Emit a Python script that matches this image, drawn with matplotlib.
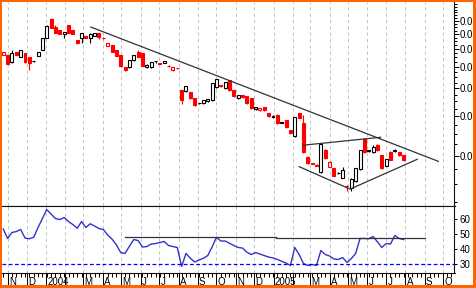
import datetime as dt
import matplotlib
matplotlib.use("Agg")
import matplotlib.pyplot as plt
import matplotlib.dates as mdates
from matplotlib.patches import Rectangle
from matplotlib.transforms import blended_transform_factory
import numpy as np

plt.rcParams['font.family'] = ['Liberation Sans', 'DejaVu Sans']

# weekly bars, first bar = week ending Fri 24 Oct 2003
first_week = dt.date(2003, 10, 24)
prev_close = 0.0590  # close of the week before the first bar

opens = [0.0564, 0.0564, 0.0524, 0.0581, 0.0552, 0.0575, 0.0552, 0.0528, 0.0558, 0.0593,
         0.0671, 0.0817, 0.0752, 0.0729, 0.0700, 0.0768, 0.0729, 0.0658, 0.0671, 0.0685,
         0.0671, 0.0685, 0.0707, 0.0674, 0.0618, 0.0625, 0.0593, 0.0564, 0.0498, 0.0498,
         0.0535, 0.0581, 0.0575, 0.0498, 0.0498, 0.0529, 0.0519, 0.0519, 0.0505, 0.0483,
         0.0494, 0.0393, 0.0389, 0.0385, 0.0362, 0.0343, 0.0344, 0.0351, 0.0354, 0.0405,
         0.0414, 0.0401, 0.0435, 0.0393, 0.0362, 0.0373, 0.0369, 0.0362, 0.0323, 0.0320,
         0.0330, 0.0310, 0.0297, 0.0304, 0.0281, 0.0288, 0.0260, 0.0244, 0.0310, 0.0280,
         0.0197, 0.0185, 0.0182, 0.0169, 0.0212, 0.0179, 0.0176, 0.0167, 0.0160, 0.0147,
         0.0143, 0.0154, 0.0174, 0.0239, 0.0211, 0.0207, 0.0223, 0.0201, 0.0181, 0.0209,
         0.0211, 0.0207, 0.0201]
highs = [0.0583, 0.0566, 0.0593, 0.0583, 0.0596, 0.0577, 0.0555, 0.0532, 0.0583, 0.0673,
         0.0765, 0.0822, 0.0768, 0.0731, 0.0716, 0.0770, 0.0731, 0.0660, 0.0709, 0.0687,
         0.0705, 0.0709, 0.0709, 0.0676, 0.0640, 0.0627, 0.0595, 0.0566, 0.0500, 0.0537,
         0.0566, 0.0593, 0.0577, 0.0513, 0.0526, 0.0531, 0.0521, 0.0532, 0.0507, 0.0500,
         0.0496, 0.0395, 0.0411, 0.0387, 0.0364, 0.0346, 0.0356, 0.0360, 0.0424, 0.0442,
         0.0416, 0.0429, 0.0437, 0.0395, 0.0375, 0.0375, 0.0371, 0.0364, 0.0332, 0.0328,
         0.0332, 0.0312, 0.0304, 0.0306, 0.0284, 0.0290, 0.0262, 0.0299, 0.0312, 0.0304,
         0.0199, 0.0186, 0.0183, 0.0229, 0.0214, 0.0189, 0.0177, 0.0169, 0.0178, 0.0148,
         0.0159, 0.0177, 0.0213, 0.0241, 0.0213, 0.0223, 0.0225, 0.0202, 0.0194, 0.0210,
         0.0214, 0.0208, 0.0202]
lows = [0.0562, 0.0512, 0.0519, 0.0562, 0.0550, 0.0522, 0.0483, 0.0526, 0.0556, 0.0593,
        0.0669, 0.0742, 0.0705, 0.0701, 0.0671, 0.0708, 0.0698, 0.0631, 0.0638, 0.0669,
        0.0638, 0.0683, 0.0664, 0.0668, 0.0616, 0.0579, 0.0556, 0.0501, 0.0478, 0.0496,
        0.0533, 0.0550, 0.0504, 0.0496, 0.0496, 0.0519, 0.0512, 0.0517, 0.0501, 0.0481,
        0.0490, 0.0340, 0.0387, 0.0360, 0.0334, 0.0341, 0.0342, 0.0349, 0.0352, 0.0403,
        0.0407, 0.0399, 0.0391, 0.0367, 0.0360, 0.0363, 0.0342, 0.0324, 0.0321, 0.0318,
        0.0318, 0.0298, 0.0295, 0.0278, 0.0279, 0.0266, 0.0250, 0.0242, 0.0294, 0.0205,
        0.0183, 0.0183, 0.0180, 0.0167, 0.0193, 0.0178, 0.0162, 0.0166, 0.0159, 0.0140,
        0.0140, 0.0153, 0.0173, 0.0205, 0.0209, 0.0205, 0.0211, 0.0175, 0.0180, 0.0191,
        0.0209, 0.0200, 0.0190]
closes = [0.0581, 0.0514, 0.0575, 0.0564, 0.0593, 0.0524, 0.0521, 0.0530, 0.0581, 0.0671,
          0.0760, 0.0744, 0.0707, 0.0703, 0.0714, 0.0710, 0.0700, 0.0638, 0.0707, 0.0671,
          0.0703, 0.0707, 0.0678, 0.0670, 0.0638, 0.0581, 0.0558, 0.0503, 0.0483, 0.0535,
          0.0564, 0.0552, 0.0506, 0.0511, 0.0524, 0.0530, 0.0514, 0.0530, 0.0503, 0.0498,
          0.0492, 0.0354, 0.0409, 0.0362, 0.0336, 0.0344, 0.0354, 0.0358, 0.0422, 0.0440,
          0.0409, 0.0427, 0.0393, 0.0369, 0.0373, 0.0365, 0.0344, 0.0326, 0.0330, 0.0326,
          0.0320, 0.0300, 0.0302, 0.0280, 0.0282, 0.0268, 0.0252, 0.0297, 0.0296, 0.0207,
          0.0185, 0.0184, 0.0181, 0.0227, 0.0195, 0.0187, 0.0163, 0.0168, 0.0172, 0.0146,
          0.0158, 0.0176, 0.0212, 0.0207, 0.0212, 0.0218, 0.0212, 0.0176, 0.0193, 0.0192,
          0.0212, 0.0201, 0.0191]

rsi = [53, 46.7, 50.7, 51.3, 52.7, 47, 46.5, 47.5, 54, 60,
       66, 63, 60, 59.3, 60.7, 58, 56, 53.5, 58, 54,
       56.5, 55, 53.3, 52.7, 49, 46.3, 42.5, 37.3, 36.7, 41.5,
       46, 45.3, 41, 41.3, 43, 43.3, 44, 44.7, 42, 41.3,
       40.7, 28, 36.7, 33.5, 31, 32.3, 33.5, 35.3, 41, 47.5,
       45, 45, 43.5, 42, 40.7, 40.3, 37.5, 36, 37.3, 36.3,
       35.3, 34.3, 33.7, 32.7, 31.5, 30.3, 28.7, 40.7, 36, 30,
       28.7, 29.3, 28.7, 38.7, 36, 35, 33, 32.7, 34, 30.7,
       33.3, 36.7, 46.7, 46.7, 46.5, 48, 44.5, 40.7, 43.3, 43,
       48.7, 46.7, 46]

# drawn trend lines (date, price)
down_dates, down_prices = ["2004-03-13", "2005-09-23"], [0.0752, 0.0189]
tri_top_dates, tri_top_prices = ["2005-02-17", "2005-06-22"], [0.0223, 0.0242]
tri_low_dates, tri_low_prices = ["2005-02-11", "2005-05-04", "2005-08-20"], [0.0179, 0.0142, 0.0193]
rsi_res1_dates, rsi_res1 = ["2004-05-07", "2005-01-05"], [47.8, 47.8]
rsi_res2_dates, rsi_res2 = ["2005-01-05", "2005-09-02"], [47.1, 47.1]

price_ticks = [0.02, 0.03, 0.04, 0.05, 0.06, 0.07, 0.08]
rsi_ticks = [30, 40, 50, 60]


def to_num(dates):
    return mdates.date2num([dt.date.fromisoformat(d) for d in dates])


W, H = 477, 288
fig = plt.figure(figsize=(W / 100, H / 100), dpi=100)
# edges put on pixel centres so 1px spines stay crisp
ax = fig.add_axes([2 / W, 1 - 205.5 / H, 452.5 / W, 203.5 / H])
ax2 = fig.add_axes([2 / W, 1 - 272.5 / H, 452.5 / W, 67 / H], sharex=ax)

n = len(closes)
x = mdates.date2num([first_week + dt.timedelta(weeks=i) for i in range(n)])
o, hi, lo, c = map(np.array, (opens, highs, lows, closes))
pc = np.r_[prev_close, c[:-1]]
col = np.where(c < pc, '#FF0000', '#000000')
up = c > o
face = np.where(up, 'white', col)

# candles
ax.vlines(x, lo, hi, colors=col, lw=0.8, zorder=2)
ax.bar(x, np.abs(c - o), bottom=np.minimum(o, c), width=4.8,
       color=face, edgecolor=col, linewidth=0.8, zorder=3)

lc = '#333333'
ax.plot(to_num(down_dates), down_prices, color=lc, lw=0.9, zorder=4)
ax.plot(to_num(tri_top_dates), tri_top_prices, color=lc, lw=0.9, zorder=4)
ax.plot(to_num(tri_low_dates), tri_low_prices, color=lc, lw=0.9, zorder=4)

ax.set_yscale('log')
ax.set_ylim(0.0120, 0.0973)
ax.set_xlim(mdates.date2num(dt.date(2003, 10, 22)), mdates.date2num(dt.date(2005, 10, 19)))
ax.yaxis.tick_right()
ax.set_yticks(price_ticks)
ax.set_yticklabels(['0.0'] * len(price_ticks))
ax.yaxis.set_minor_locator(matplotlib.ticker.FixedLocator(np.arange(0.0125, 0.0975, 0.0025)))
ax.yaxis.set_minor_formatter(matplotlib.ticker.NullFormatter())
ax.tick_params(axis='y', which='major', direction='out', length=3.5, width=0.72, pad=0.5, labelsize=7)
ax.tick_params(axis='y', which='minor', direction='out', length=1.8, width=0.72)

ax.xaxis.set_major_locator(mdates.MonthLocator())
ax.xaxis.set_minor_locator(mdates.WeekdayLocator(byweekday=mdates.FR))
ax.tick_params(axis='x', which='both', bottom=False, labelbottom=False)

for a in (ax, ax2):
    a.grid(axis='x', which='major', color='#C4C4C4', ls=(0, (3.5, 3)), lw=0.7)
    a.spines['left'].set_visible(False)
    a.spines['top'].set_visible(False)
    for s in ('right', 'bottom'):
        a.spines[s].set_linewidth(0.8)
        a.spines[s].set_color('#111111')
    a.set_axisbelow(True)

# panel separator line sits on the RSI axes (drawn after the price axes)
ax2.spines['top'].set_visible(True)
ax2.spines['top'].set_linewidth(0.8)
ax2.spines['top'].set_color('#111111')

# RSI panel
ax2.plot(x, rsi, color='#3333CC', lw=1.0)
ax2.axhline(30, color='#0000FF', ls=(0, (3, 2)), lw=0.9)
ax2.plot(to_num(rsi_res1_dates), rsi_res1, color=lc, lw=0.9)
ax2.plot(to_num(rsi_res2_dates), rsi_res2, color=lc, lw=0.9)
ax2.set_ylim(24, 68.7)
ax2.yaxis.tick_right()
ax2.set_yticks(rsi_ticks)
ax2.tick_params(axis='y', direction='out', length=2.5, width=0.72, pad=1, labelsize=7)
ax2.tick_params(axis='x', which='major', direction='out', length=9.5, width=0.72, labelbottom=False)
ax2.tick_params(axis='x', which='minor', direction='out', length=3.2, width=0.72)

# month labels to the right of the month ticks
tr = blended_transform_factory(ax2.transData, ax2.transAxes)
m = dt.date(2003, 11, 1)
while m < dt.date(2005, 10, 19):
    if m.month != 2:
        lab = str(m.year) if m.month == 1 else m.strftime('%b')[0]
        ax2.text(mdates.date2num(m) + 2, -0.135, lab, transform=tr, fontsize=7,
                 ha='left', va='center', clip_on=False)
    m = dt.date(m.year + (m.month == 12), m.month % 12 + 1, 1)

# orange frame
orange = '#FF6600'
for rx, ry, rw, rh in [(0, 0, 2, H), (0, H - 2, W, 2), (W - 4, 0, 4, H), (0, 0, W, 3)]:
    fig.patches.append(Rectangle((rx / W, ry / H), rw / W, rh / H, transform=fig.transFigure,
                                 facecolor=orange, edgecolor='none', zorder=10))

fig.savefig('out.png', dpi=100)
